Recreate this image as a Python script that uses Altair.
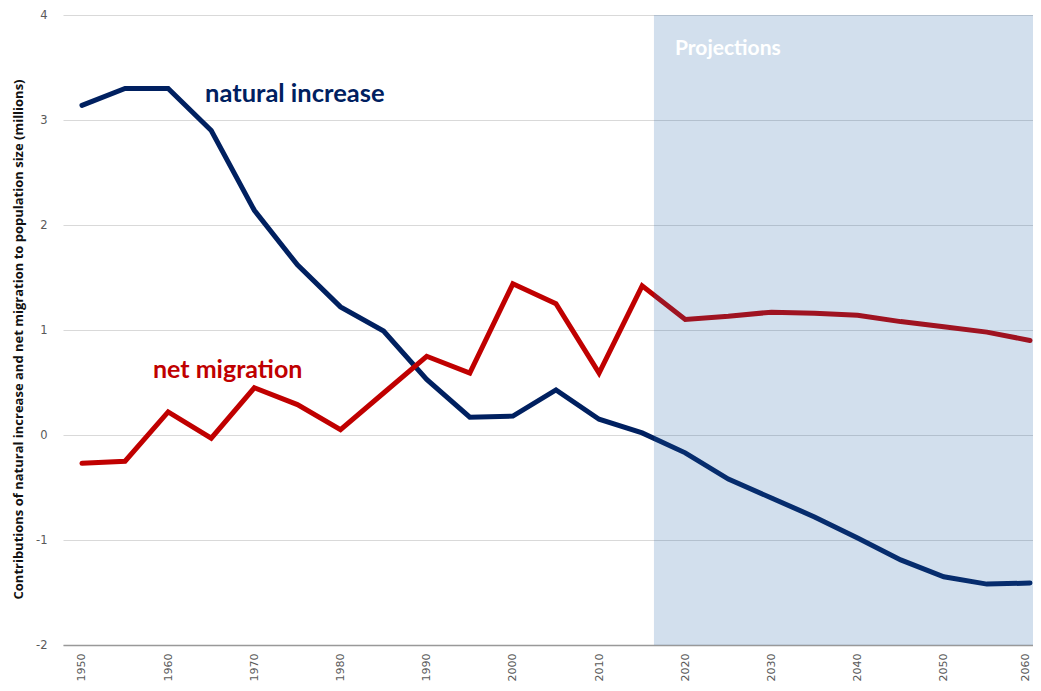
import altair as alt
import pandas as pd

years = list(range(1950, 2061, 5))
natural_increase = [3.14, 3.30, 3.30, 2.90, 2.14, 1.62, 1.22, 0.99, 0.53, 0.17, 0.18, 0.43, 0.15, 0.02,
                    -0.17, -0.42, -0.60, -0.78, -0.98, -1.19, -1.35, -1.42, -1.41]
net_migration = [-0.27, -0.25, 0.22, -0.03, 0.45, 0.29, 0.05, 0.40, 0.75, 0.59, 1.44, 1.25, 0.59, 1.42,
                 1.10, 1.13, 1.17, 1.16, 1.14, 1.08, 1.03, 0.98, 0.90]
series_names = ["natural increase", "net migration"]
series_colors = ["#002060", "#c00000"]
x_ticks = list(range(1950, 2061, 10))
y_ticks = [-2, -1, 0, 1, 2, 3, 4]
projection_start = 2016.37
x_domain = [1947.80, 2060.35]
y_domain = [-2, 4]

W, H = 970, 630

df = pd.DataFrame({
    "year": years * 2,
    "value": natural_increase + net_migration,
    "series": [series_names[0]] * len(years) + [series_names[1]] * len(years),
})

labels = pd.DataFrame({
    "year": [1964.28, 1958.24, 2018.81],
    "value": [3.171, 0.543, 3.619],
    "text": ["natural increase", "net migration", "Projections"],
    "color": ["#002060", "#c00000", "#ffffff"],
    "size": [25.5, 25, 21],
})

xs = alt.Scale(domain=x_domain, nice=False, zero=False)
ys = alt.Scale(domain=y_domain, nice=False, zero=False)

lines = alt.Chart(df).mark_line(strokeWidth=5, strokeCap="round").encode(
    x=alt.X("year:Q", scale=xs,
            axis=alt.Axis(values=x_ticks, format="d", labelAngle=-90, grid=False, ticks=False,
                          domain=True, domainColor="#999999", domainWidth=1.5,
                          labelPadding=8, labelFontSize=11, labelColor="#595959",
                          labelFont="DejaVu Sans", title=None,
                          labelOffset={"condition": {"test": "datum.value >= 2060", "value": -4}, "value": 0})),
    y=alt.Y("value:Q", scale=ys,
            axis=alt.Axis(values=y_ticks, labelExpr="toString(datum.value)", grid=True,
                          gridColor="#d9d9d9", gridWidth=1,
                          ticks=False, domain=False, labelPadding=16, labelFontSize=11.5,
                          labelColor="#595959", labelFont="DejaVu Sans",
                          title="Contributions of natural increase and net migration to population size (millions)",
                          titleFont="Open Sans", titleFontSize=13, titleFontWeight="bold",
                          titleColor="#111111", titleAnchor="middle", titleBaseline="middle",
                          titleX=-45, titleY=324)),
    color=alt.Color("series:N", scale=alt.Scale(domain=series_names, range=series_colors), legend=None),
)

shade_df = pd.DataFrame({"x": [projection_start], "x2": [x_domain[1]], "y": [y_domain[1]], "y2": [y_domain[0]]})
shade = alt.Chart(shade_df).mark_rect(color="#1e5fa5", opacity=0.2).encode(
    x=alt.X("x:Q", scale=xs), x2="x2:Q",
    y=alt.Y("y:Q", scale=ys), y2="y2:Q",
)

text = alt.Chart(labels).mark_text(align="left", baseline="alphabetic", font="Lato", fontWeight="bold").encode(
    x=alt.X("year:Q", scale=xs),
    y=alt.Y("value:Q", scale=ys),
    text="text:N",
    color=alt.Color("color:N", scale=None),
    size=alt.Size("size:Q", scale=None),
)

chart = alt.layer(lines, shade, text).properties(
    width=W, height=H, autosize="none",
    padding={"left": 55, "top": 7, "right": 0, "bottom": 38},
).configure_view(stroke=None)

chart.save("out.html", embed_options={"renderer": "svg", "actions": False})
